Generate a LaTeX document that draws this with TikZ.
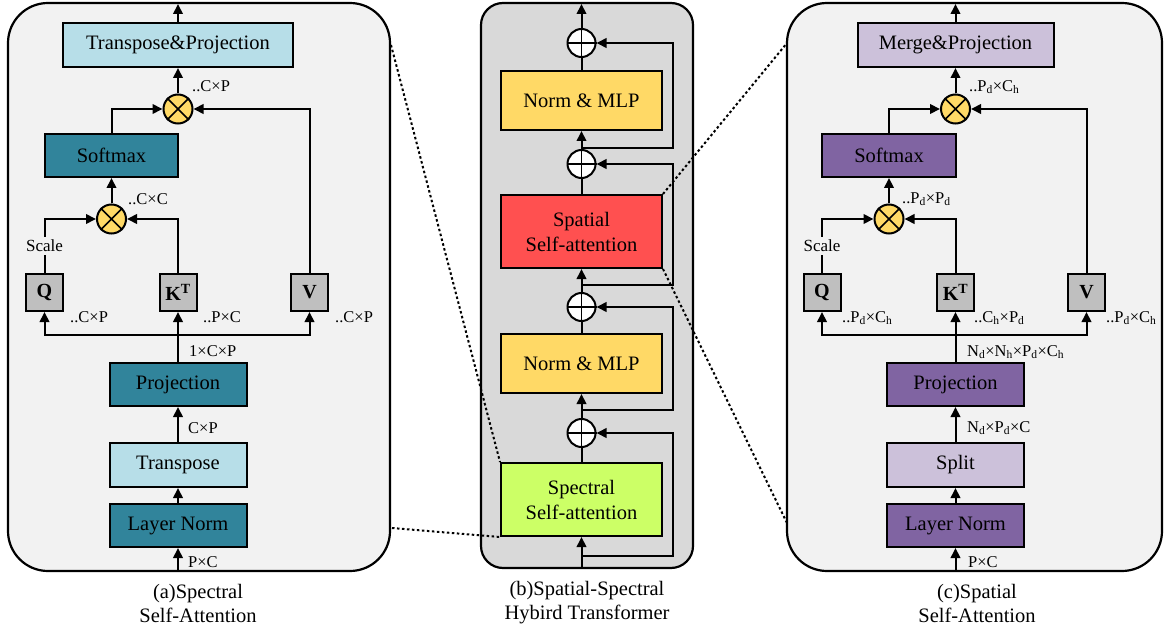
\documentclass[tikz,border=0pt]{standalone}
\usepackage{fontspec}
\setmainfont{Liberation Serif}
\usetikzlibrary{arrows.meta}
\definecolor{cLBlue}{HTML}{B7DEE8}
\definecolor{cTeal}{HTML}{31849B}
\definecolor{cLPur}{HTML}{CCC1DA}
\definecolor{cPur}{HTML}{8064A2}
\definecolor{cGray}{HTML}{BFBFBF}
\definecolor{cYel}{HTML}{FFD966}
\definecolor{cRed}{HTML}{FF5050}
\definecolor{cGreen}{HTML}{CCFF66}
\definecolor{cPanel}{HTML}{F2F2F2}
\definecolor{cPanelB}{HTML}{D9D9D9}
\begin{document}
\begin{tikzpicture}[x=1pt,y=-1pt,
  box/.style={draw,line width=2pt,inner sep=0pt,align=center,font=\fontsize{20.5}{25}\selectfont},
  wbox/.style={box,minimum width=137pt,minimum height=43pt},
  sq/.style={box,fill=cGray,minimum width=37pt,minimum height=37pt,font=\fontsize{20}{24}\selectfont\bfseries},
  cbox/.style={box,minimum width=161pt},
  mulc/.style={circle,draw,fill=cYel,minimum size=29pt,inner sep=0pt,line width=2pt},
  addc/.style={circle,draw,fill=white,minimum size=28pt,inner sep=0pt,line width=2pt},
  arr/.style={line width=2pt,-{Triangle[length=10pt,width=9.5pt]}},
  ln/.style={line width=2pt},
  lab/.style={anchor=west,inner sep=0pt,font=\fontsize{16.5}{19}\selectfont},
  captxt/.style={align=center,inner sep=0pt,font=\fontsize{20.5}{24}\selectfont},
  panel/.style={draw,line width=2.2pt},
  dots/.style={line width=2pt,dash pattern=on 2.5pt off 2.5pt}
]
\useasboundingbox (0,0) rectangle (1164,631);
% panels
\draw[panel,fill=cPanel,rounded corners=40pt] (8,3) rectangle (390,571);
\draw[panel,fill=cPanelB,rounded corners=22pt] (481,3) rectangle (693,568);
\draw[panel,fill=cPanel,rounded corners=40pt] (787,3) rectangle (1162,571);

% ================= left panel =================
\node[box,fill=cLBlue,minimum width=230pt,minimum height=44pt] (tpL) at (178,45) {Transpose\&Projection};
\node[mulc] (m1L) at (178,109) {};
\node[box,fill=cTeal,minimum width=133pt,minimum height=43pt] (smL) at (111.5,155.5) {Softmax};
\node[mulc] (m2L) at (111.5,219) {};
\node[sq] (qL) at (44.5,292.5) {Q};
\node[sq] (kL) at (178,292.5) {K\textsuperscript{T}};
\node[sq] (vL) at (309.5,292.5) {V};
\node[wbox,fill=cTeal] (prL) at (178,384.5) {Projection};
\node[wbox,fill=cLBlue,minimum height=44pt] (trL) at (178,465) {Transpose};
\node[wbox,fill=cTeal] (lnL) at (178,525.5) {Layer Norm};
\node[inner sep=3pt,font=\fontsize{17}{20}\selectfont] (scL) at (44.5,246) {Scale};
\coordinate (inL) at (178,571);
\coordinate (outL) at (178,4);
\coordinate (brL) at (178,335);

\draw[arr] (inL) -- (lnL);
\draw[arr] (lnL) -- (trL);
\draw[arr] (trL) -- (prL);
\draw[arr] (prL) -- (kL);
\draw[arr] (brL) -| (qL.south);
\draw[arr] (brL) -| (vL.south);
\draw[ln] (qL) -- (scL);
\draw[arr] (scL.north) |- (m2L.west);
\draw[arr] (kL.north) |- (m2L.east);
\draw[arr] (m2L) -- (smL);
\draw[arr] (smL.north) |- (m1L.west);
\draw[arr] (vL.north) |- (m1L.east);
\draw[arr] (m1L) -- (tpL);
\draw[arr] (tpL) -- (outL);
\foreach \m in {m1L,m2L}{\draw[line width=1.6pt] (\m.north west) -- (\m.south east) (\m.north east) -- (\m.south west);}

\node[lab] (l1) at (192,86) {..C×P};
\node[lab] (l2) at (128,199) {..C×C};
\node[lab] (l3) at (70,317) {..C×P};
\node[lab] (l4) at (203,317) {..P×C};
\node[lab] (l5) at (335,317) {..C×P};
\node[lab] (l6) at (189,351) {1×C×P};
\node[lab] (l7) at (188,428) {C×P};
\node[lab] (l8) at (188,562) {P×C};
\node[captxt] (capA) at (198,603) {(a)Spectral\\Self-Attention};

% ================= center panel =================
\node[addc] (a1) at (581.5,43) {};
\node[cbox,fill=cYel,minimum height=59pt] (nm1) at (581.5,100.5) {Norm \& MLP};
\node[addc] (a2) at (581.5,164) {};
\node[cbox,fill=cRed,minimum height=73pt] (ss) at (581.5,231.5) {Spatial\\Self-attention};
\node[addc] (a3) at (581.5,307) {};
\node[cbox,fill=cYel,minimum height=59pt] (nm2) at (581.5,363.5) {Norm \& MLP};
\node[addc] (a4) at (581.5,433) {};
\node[cbox,fill=cGreen,minimum height=73pt] (spe) at (581.5,499.5) {Spectral\\Self-attention};
\coordinate (inC) at (581.5,568);
\coordinate (outC) at (581.5,4);
\coordinate (b1) at (581.5,556);
\coordinate (b2) at (581.5,410);
\coordinate (b3) at (581.5,285);
\coordinate (b4) at (581.5,148);
\coordinate (r1) at (673,556);
\coordinate (r2) at (673,410);
\coordinate (r3) at (673,285);
\coordinate (r4) at (673,148);

\draw[arr] (inC) -- (spe);
\draw[arr] (b1) -- (r1) |- (a4.east);
\draw[ln] (spe) -- (a4);
\draw[arr] (a4) -- (nm2);
\draw[arr] (b2) -- (r2) |- (a3.east);
\draw[ln] (nm2) -- (a3);
\draw[arr] (a3) -- (ss);
\draw[arr] (b3) -- (r3) |- (a2.east);
\draw[ln] (ss) -- (a2);
\draw[arr] (a2) -- (nm1);
\draw[arr] (b4) -- (r4) |- (a1.east);
\draw[ln] (nm1) -- (a1);
\draw[arr] (a1) -- (outC);
\foreach \m in {a1,a2,a3,a4}{\draw[line width=1.6pt] (\m.north) -- (\m.south) (\m.west) -- (\m.east);}
\node[captxt] (capB) at (587,603) {(b)Spatial-Spectral\\Hybird Transformer};

% ================= right panel =================
\node[box,fill=cLPur,minimum width=196pt,minimum height=44pt] (mpR) at (955.5,45) {Merge\&Projection};
\node[mulc] (m1R) at (955.5,109) {};
\node[box,fill=cPur,minimum width=134pt,minimum height=43pt] (smR) at (889,155.5) {Softmax};
\node[mulc] (m2R) at (889,219) {};
\node[sq] (qR) at (822,292.5) {Q};
\node[sq] (kR) at (955.5,292.5) {K\textsuperscript{T}};
\node[sq] (vR) at (1086.5,292.5) {V};
\node[wbox,fill=cPur] (prR) at (955.5,384.5) {Projection};
\node[wbox,fill=cLPur,minimum height=44pt] (spR) at (955.5,465) {Split};
\node[wbox,fill=cPur] (lnR) at (955.5,525.5) {Layer Norm};
\node[inner sep=3pt,font=\fontsize{17}{20}\selectfont] (scR) at (822,246) {Scale};
\coordinate (inR) at (955.5,571);
\coordinate (outR) at (955.5,4);
\coordinate (brR) at (955.5,335);

\draw[arr] (inR) -- (lnR);
\draw[arr] (lnR) -- (spR);
\draw[arr] (spR) -- (prR);
\draw[arr] (prR) -- (kR);
\draw[arr] (brR) -| (qR.south);
\draw[arr] (brR) -| (vR.south);
\draw[ln] (qR) -- (scR);
\draw[arr] (scR.north) |- (m2R.west);
\draw[arr] (kR.north) |- (m2R.east);
\draw[arr] (m2R) -- (smR);
\draw[arr] (smR.north) |- (m1R.west);
\draw[arr] (vR.north) |- (m1R.east);
\draw[arr] (m1R) -- (mpR);
\draw[arr] (mpR) -- (outR);
\foreach \m in {m1R,m2R}{\draw[line width=1.6pt] (\m.north west) -- (\m.south east) (\m.north east) -- (\m.south west);}

\node[lab] (k1) at (969,87) {..P\textsubscript{d}×C\textsubscript{h}};
\node[lab] (k2) at (902,199) {..P\textsubscript{d}×P\textsubscript{d}};
\node[lab] (k3) at (842,318) {..P\textsubscript{d}×C\textsubscript{h}};
\node[lab] (k4) at (974,318) {..C\textsubscript{h}×P\textsubscript{d}};
\node[lab] (k5) at (1106,318) {..P\textsubscript{d}×C\textsubscript{h}};
\node[lab] (k6) at (967,352) {N\textsubscript{d}×N\textsubscript{h}×P\textsubscript{d}×C\textsubscript{h}};
\node[lab] (k7) at (967,428) {N\textsubscript{d}×P\textsubscript{d}×C};
\node[lab] (k8) at (968,562) {P×C};
\node[captxt] (capC) at (977,603) {(c)Spatial\\Self-Attention};

% ================= dotted zoom lines =================
\coordinate (zL1) at (391,45);
\coordinate (zL2) at (392,528);
\coordinate (zR1) at (787,43);
\coordinate (zR2) at (787,523);
\draw[dots] (zL1) -- (spe.north west);
\draw[dots] (zL2) -- (spe.south west);
\draw[dots] (ss.north east) -- (zR1);
\draw[dots] (ss.south east) -- (zR2);
\end{tikzpicture}
\end{document}
